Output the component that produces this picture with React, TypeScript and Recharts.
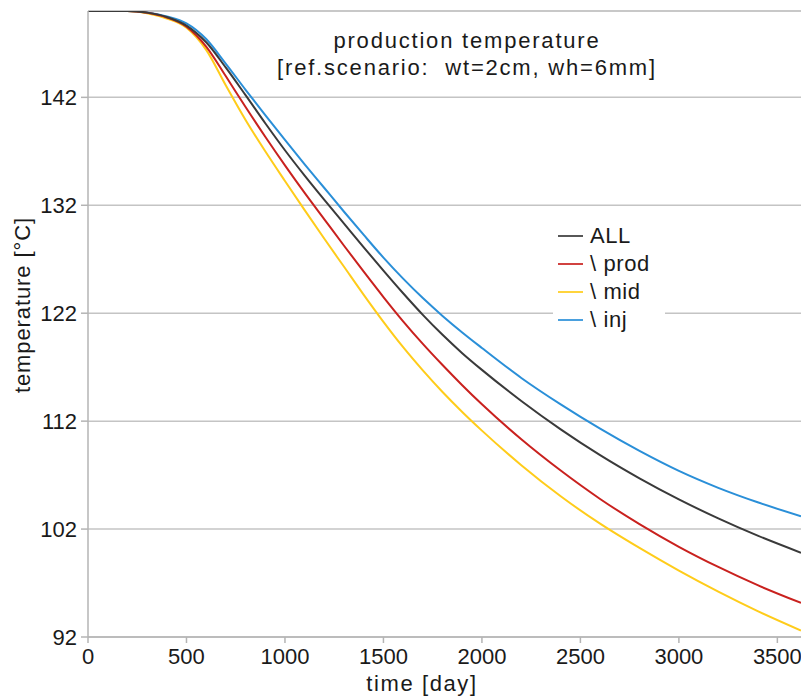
import React from 'react';
import { LineChart, Line, XAxis, YAxis, CartesianGrid, Legend, ReferenceLine } from 'recharts';

const days = [0, 100, 200, 300, 400, 500, 600, 700, 800, 900, 1000, 1100, 1200, 1300, 1400, 1500, 1600, 1700, 1800, 1900, 2000, 2200, 2400, 2600, 2800, 3000, 3200, 3400, 3620];
const allT = [150, 150, 150, 149.85, 149.45, 148.65, 147.1, 144.75, 142.2, 139.6, 137.1, 134.75, 132.5, 130.3, 128.1, 125.95, 123.85, 121.85, 120.0, 118.3, 116.75, 113.87, 111.24, 108.85, 106.7, 104.75, 102.99, 101.39, 99.81];
const prodT = [150, 150, 150, 149.83, 149.4, 148.55, 146.7, 143.95, 141.1, 138.35, 135.7, 133.15, 130.7, 128.25, 125.85, 123.5, 121.25, 119.16, 117.2, 115.33, 113.56, 110.32, 107.42, 104.79, 102.46, 100.36, 98.49, 96.8, 95.16];
const midT = [150, 150, 150, 149.8, 149.3, 148.45, 146.4, 143.1, 139.9, 137.0, 134.25, 131.55, 128.9, 126.3, 123.7, 121.2, 118.85, 116.7, 114.7, 112.85, 111.12, 107.92, 105.04, 102.5, 100.25, 98.15, 96.2, 94.4, 92.6];
const injT = [150, 150, 150, 149.87, 149.5, 148.85, 147.4, 145.1, 142.7, 140.35, 138.05, 135.8, 133.6, 131.4, 129.25, 127.15, 125.2, 123.4, 121.75, 120.22, 118.78, 116.0, 113.55, 111.3, 109.24, 107.39, 105.82, 104.48, 103.19];

const xTicks = [0, 500, 1000, 1500, 2000, 2500, 3000, 3500];
const yTicks = [92, 102, 112, 122, 132, 142];
const seriesKeys = ['all', 'prod', 'mid', 'inj'];
const seriesNames = ['ALL', '\\ prod', '\\ mid', '\\ inj'];
const seriesColors = ['#3a3a3a', '#c9211e', '#ffcc1a', '#2a8fd8'];
const titleLines = ['production temperature', '[ref.scenario:  wt=2cm, wh=6mm]'];
const xLabel = 'time [day]';
const yLabel = 'temperature [°C]';

const data = days.map((d, i) => ({ day: d, all: allT[i], prod: prodT[i], mid: midT[i], inj: injT[i] }));

const FONT = '"Liberation Sans", Arial, Helvetica, sans-serif';
const TEXT = '#1a1a1a';
const GRID = '#c4c4c4';

const LegendBox = () => (
  <div style={{ background: '#fff', width: 112, fontFamily: FONT, fontSize: 22, color: TEXT }}>
    {seriesNames.map((n, i) => (
      <div key={n} style={{ display: 'flex', alignItems: 'center', height: 28 }}>
        <div style={{ marginLeft: 5, width: 25, height: 2, background: seriesColors[i], opacity: 0.85 }} />
        <div style={{ marginLeft: 7, whiteSpace: 'pre', letterSpacing: 0.6 }}>{n}</div>
      </div>
    ))}
  </div>
);

export default function App() {
  return (
    <div style={{ position: 'absolute', left: 0, top: 0, width: 801, height: 698, background: '#fff' }}>
      <LineChart width={801} height={698} data={data} margin={{ top: 11, right: 0, bottom: 0, left: 0 }}>
        <CartesianGrid vertical={false} stroke={GRID} strokeWidth={1.5} />
        <ReferenceLine y={150} stroke={GRID} strokeWidth={1.5} />
        <XAxis
          dataKey="day"
          type="number"
          domain={[0, 3620]}
          allowDataOverflow
          ticks={xTicks}
          interval={0}
          height={61}
          tickSize={6}
          tickMargin={5}
          axisLine={{ stroke: '#b4b4b4', strokeWidth: 1.5 }}
          tickLine={{ stroke: '#b4b4b4', strokeWidth: 1.5 }}
          tick={{ fill: TEXT, fontSize: 22, fontFamily: FONT }}
        />
        <YAxis
          type="number"
          domain={[92, 150]}
          allowDataOverflow
          ticks={yTicks}
          interval={0}
          width={88}
          tickSize={7}
          tickMargin={4}
          axisLine={{ stroke: '#b4b4b4', strokeWidth: 1.5 }}
          tickLine={{ stroke: '#b4b4b4', strokeWidth: 1.5 }}
          tick={{ fill: TEXT, fontSize: 22, fontFamily: FONT }}
        />
        <Legend
          layout="vertical"
          align="center"
          verticalAlign="middle"
          content={() => <LegendBox />}
          wrapperStyle={{ position: 'absolute', left: 553, top: 222, width: 112, height: 112 }}
        />
        {[3, 2, 1, 0].map((i) => (
          <Line
            key={seriesKeys[i]}
            type="monotone"
            dataKey={seriesKeys[i]}
            name={seriesNames[i]}
            stroke={seriesColors[i]}
            strokeWidth={2}
            dot={false}
            isAnimationActive={false}
          />
        ))}
      </LineChart>
      <div style={{ position: 'absolute', left: 217, top: 26.6, width: 500, textAlign: 'center', fontFamily: FONT, fontSize: 22, lineHeight: '27px', letterSpacing: 1.8, color: TEXT, whiteSpace: 'pre' }}>
        {titleLines.map((t) => (
          <div key={t}>{t}</div>
        ))}
      </div>
      <div style={{ position: 'absolute', left: 322, top: 673.4, width: 200, textAlign: 'center', fontFamily: FONT, fontSize: 22, lineHeight: '22px', letterSpacing: 1.6, color: TEXT, whiteSpace: 'pre' }}>
        {xLabel}
      </div>
      <div style={{ position: 'absolute', left: 23.4 - 110, top: 305 - 12, width: 220, height: 24, textAlign: 'center', fontFamily: FONT, fontSize: 22, lineHeight: '24px', letterSpacing: 0.9, color: TEXT, whiteSpace: 'pre', transform: 'rotate(-90deg)' }}>
        {yLabel}
      </div>
    </div>
  );
}
